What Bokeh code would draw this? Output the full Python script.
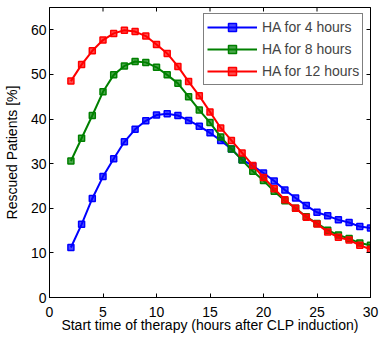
import math
from bokeh.plotting import figure
from bokeh.models import (Range1d, LinearAxis, Legend, LegendItem, FixedTicker,
                          CustomLabelingPolicy)
from bokeh.embed import file_html
from bokeh.resources import INLINE

hours = list(range(2, 31))
ha4 = [11.2, 16.4, 22.2, 27.1, 31.1, 34.9, 37.7, 39.6, 40.9, 41.2, 40.8, 39.7, 38.4, 36.9,
       35.2, 33.3, 30.9, 29.5, 27.9, 26.1, 24.1, 22.3, 20.6, 19.1, 18.3, 17.4, 16.8, 15.9, 15.6]
ha8 = [30.6, 35.7, 40.8, 46.1, 49.9, 51.9, 52.9, 52.7, 51.6, 49.9, 48.0, 45.0, 42.0, 39.2,
       36.0, 33.3, 30.8, 28.3, 26.2, 23.8, 21.7, 20.0, 18.1, 16.6, 15.1, 14.0, 13.2, 12.2, 11.7]
ha12 = [48.5, 52.2, 55.3, 57.7, 59.2, 59.9, 59.6, 58.6, 56.7, 54.7, 51.8, 48.4, 45.2, 41.6,
        38.0, 35.2, 32.4, 29.6, 26.9, 24.4, 21.9, 20.0, 18.0, 16.5, 14.7, 13.5, 12.9, 11.7, 10.8]
labels = ["HA for 4 hours", "HA for 8 hours", "HA for 12 hours"]
colors = ["#0000FF", "#008000", "#FF0000"]
x_ticks = [0, 5, 10, 15, 20, 25, 30]
y_ticks = [0, 10, 20, 30, 40, 50, 60]
X_MAX = 30
Y_MAX = 65

FONT = "Liberation Sans"

p = figure(frame_width=321, frame_height=290, output_backend="svg", toolbar_location=None,
           x_range=Range1d(0, X_MAX), y_range=Range1d(0, Y_MAX),
           min_border_left=43, min_border_right=4, min_border_top=7, min_border_bottom=30)
p.xgrid.visible = False
p.ygrid.visible = False
p.outline_line_color = "black"
p.outline_line_width = 1
p.background_fill_color = "white"

hide_all = CustomLabelingPolicy(code="""
const a = [...indices];
for (const i of a) indices.unset(i);
return indices;
""")

def style_axis(ax, show_labels=True):
    ax.axis_line_color = "black"
    ax.major_tick_in = 4
    ax.major_tick_out = 0
    ax.minor_tick_in = 0
    ax.minor_tick_out = 0
    ax.major_tick_line_color = "black"
    ax.major_label_text_font = FONT
    ax.major_label_text_font_size = "14px"
    ax.major_label_text_color = "black"
    ax.axis_label_text_font = FONT
    ax.axis_label_text_font_size = "14px"
    ax.axis_label_text_font_style = "normal"
    ax.axis_label_text_color = "black"
    if not show_labels:
        ax.major_label_policy = hide_all
        ax.major_label_standoff = 0

p.xaxis.ticker = FixedTicker(ticks=x_ticks)
p.yaxis.ticker = FixedTicker(ticks=y_ticks)
style_axis(p.xaxis[0])
style_axis(p.yaxis[0])
p.xaxis.axis_label = "Start time of therapy (hours after CLP induction)"
p.yaxis.axis_label = "Rescued Patients [%]"
p.xaxis.major_label_standoff = 9
p.xaxis.axis_label_standoff = -3
p.yaxis.major_label_standoff = 3
p.yaxis.axis_label_standoff = 8

right = LinearAxis(ticker=FixedTicker(ticks=y_ticks))
style_axis(right, False)
p.add_layout(right, "right")

# inward ticks on the top edge (box on), clipped by the frame to half their length
p.scatter(x_ticks, [Y_MAX] * len(x_ticks), marker="dash", angle=math.pi / 2, size=8,
          line_color="black", line_width=1)

items = []
for ys, lab, c in zip([ha4, ha8, ha12], labels, colors):
    l = p.line(hours, ys, line_color=c, line_width=2)
    s = p.scatter(hours, ys, marker="square", size=6, line_color=c, line_width=1.5,
                  fill_color=c, fill_alpha=0.7)
    items.append(LegendItem(label=lab, renderers=[l, s]))

legend = Legend(items=items, location=(154, 212), padding=3, spacing=2,
                label_height=20, glyph_height=20, glyph_width=50, label_standoff=5,
                label_text_font=FONT, label_text_font_size="14px",
                border_line_color="black", border_line_width=1,
                background_fill_color="white", background_fill_alpha=1.0, margin=0)
p.add_layout(legend, "center")

open("out.html", "w").write(file_html(p, INLINE))
